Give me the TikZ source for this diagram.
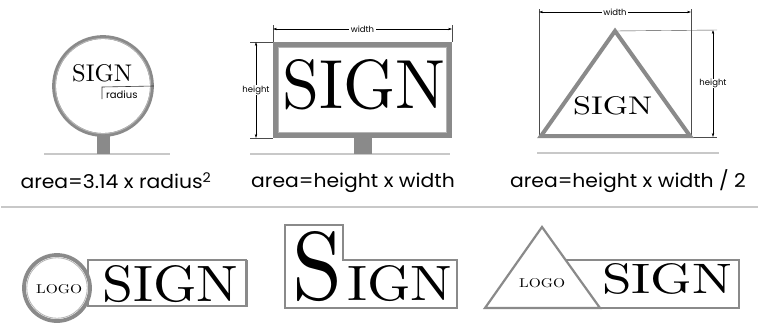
\documentclass[tikz,border=0pt]{standalone}
\usepackage{fontspec}
\setsansfont{Poppins}
\usetikzlibrary{arrows.meta}
\definecolor{ring}{HTML}{8A8A8A}
\definecolor{ringin}{HTML}{B4B4B4}
\definecolor{sep}{HTML}{C8C8C8}
\newcommand{\fitsign}[3]{\resizebox{#1pt}{#2pt}{#3}}
\newcommand{\widecap}[1]{\scalebox{1.07}[1]{#1}}
\begin{document}
\begin{tikzpicture}[x=1pt,y=-1pt,
  thickring/.style={draw=ring, line width=3.8pt},
  thinring/.style={draw=ring, line width=1.6pt},
  postbox/.style={fill=ring, draw=none},
  ground/.style={draw=sep, line width=1.2pt},
  dimline/.style={draw=black, line width=0.5pt, {Stealth[length=4pt,width=2.4pt]}-{Stealth[length=4pt,width=2.4pt]}},
  extline/.style={draw=black!70, line width=0.4pt},
  dimlabel/.style={font=\sffamily\fontsize{8.5}{9}\selectfont, fill=white, inner sep=1.5pt},
  caption/.style={font=\sffamily\fontsize{19}{20}\selectfont, inner sep=0},
  txt/.style={inner sep=0, anchor=south west}]
\useasboundingbox (0,0) rectangle (759,327);
\fill[white] (0,0) rectangle (759,327);

% ---------- circle sign ----------
\draw[ground] (44,154) coordinate (g1a) -- (170,154) coordinate (g1b);
\path[postbox] (97,136) rectangle (110,154);
\node[circle, minimum size=98pt, inner sep=0, fill=white, thickring] (circ) at (103,86) {};
\draw[ringin, line width=1pt] (circ.center) circle (47.6);
\node[txt] (csign) at (72,82) {\fitsign{60}{17}{SIGN}};
\coordinate (rstart) at (102,87);
\draw[black!80, line width=0.6pt] (102,99) -- (rstart) -- (circ.east);
\node[font=\sffamily\fontsize{10}{11}\selectfont, inner sep=0, anchor=west] (rlab) at (106,95) {radius};
\node[caption] (cap1) at (116,181) {\widecap{area=3.14 x radius\textsuperscript{2}}};

% ---------- rectangle sign ----------
\draw[ground] (250,154) coordinate (g2a) -- (450,154) coordinate (g2b);
\path[postbox] (354,137) rectangle (372,154);
\coordinate (rNW) at (275.5,44.5); \coordinate (rSE) at (449.5,135.5);
\filldraw[fill=white, draw=ring, line width=5pt] (rNW) rectangle (rSE);
\draw[ringin, line width=1.2pt] (278.6,47.6) rectangle (446.4,132.4);
\node[txt] (rsign) at (282,110) {\fitsign{163}{49}{SIGN}};
\draw[extline] (273,25) -- (273,42);
\draw[extline] (452,25) -- (452,42);
\draw[extline] (250,42) -- (273,42);
\draw[extline] (250,138) -- (273,138);
\coordinate (wl) at (273,29); \coordinate (wr) at (452,29);
\draw[dimline] (wl) -- (wr) node[midway, dimlabel] (wlab) {width};
\coordinate (ht) at (256,42); \coordinate (hb) at (256,138);
\draw[dimline] (ht) -- (hb) node[midway, dimlabel, inner sep=0.5pt] (hlab) {height};
\node[caption] (cap2) at (353,183) {\widecap{area=height x width}};

% ---------- triangle sign ----------
\draw[ground] (537,153) coordinate (g3a) -- (719,153) coordinate (g3b);
\coordinate (tA) at (615,31); \coordinate (tL) at (541,136); \coordinate (tR) at (690,136);
\draw[extline] (539,9) -- (539,137);
\draw[extline] (691,9) -- (691,137);
\draw[extline] (tA) -- (717,30);
\draw[extline] (691,137) -- (717,137);
\filldraw[fill=white, draw=ring, line width=4pt, line join=miter] (tA) -- (tL) -- (tR) -- cycle;
\node[txt] (tsign) at (573,115) {\fitsign{79}{18}{SIGN}};
\coordinate (twl) at (539,12); \coordinate (twr) at (691,12);
\draw[dimline] (twl) -- (twr) node[midway, dimlabel] (twlab) {width};
\coordinate (tht) at (713,30); \coordinate (thb) at (713,137);
\draw[dimline] (tht) -- (thb) node[midway, dimlabel, inner sep=0.5pt] (thlab) {height};
\node[caption] (cap3) at (628,181) {\widecap{area=height x width / 2}};

% ---------- separator ----------
\draw[draw=sep, line width=1.4pt] (1,207) coordinate (s1) -- (758,207) coordinate (s2);

% ---------- bottom left ----------
\draw[thinring, fill=white] (88,260) rectangle (246,306);
\draw[ring, line width=2pt] (246.5,260) -- (246.5,307);
\node[circle, minimum size=66pt, inner sep=0, fill=white, thickring] (logo1) at (57,288) {};
\draw[ringin, line width=0.8pt] (logo1.center) circle (30.2);
\node[txt] (l1) at (36,294) {\fitsign{46}{9}{LOGO}};
\node[txt] (s1t) at (102,303) {\fitsign{136}{36}{SIGN}};

% ---------- bottom middle ----------
\draw[thinring, fill=white, line join=miter] (285,308) -- (285,225) -- (343,225) -- (343,260) -- (457,260) -- (457,308) -- cycle;
\draw[ring, line width=2.5pt] (285,308) -- (285,225) -- (343,225);
\node[txt] (bigS) at (292,302) {\fitsign{50}{68}{S}};
\node[txt] (ign) at (347,302) {\fitsign{105}{35}{IGN}};

% ---------- bottom right ----------
\draw[thinring, fill=white] (566,260) rectangle (739,308);
\draw[ring, line width=2pt] (739,260) -- (739,309);
\filldraw[fill=white, draw=ring, line width=2.2pt, line join=miter] (542,227) -- (485,308) -- (600,308) -- cycle;
\node[txt] (l2) at (519,288) {\fitsign{46}{9}{LOGO}};
\node[txt] (s3t) at (602,295) {\fitsign{130}{30}{SIGN}};
\end{tikzpicture}
\end{document}
